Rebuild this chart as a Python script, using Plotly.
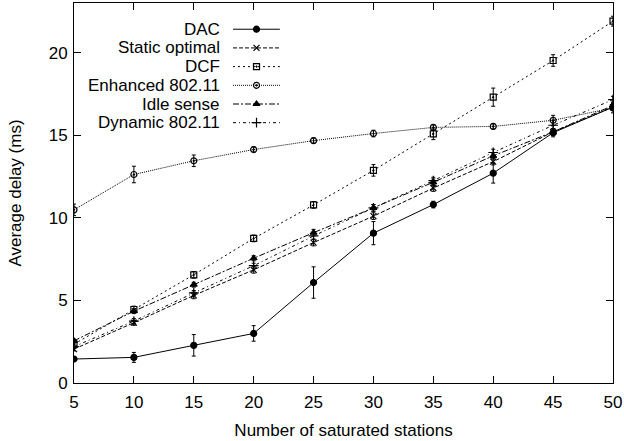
import plotly.graph_objects as go

stations = [5, 10, 15, 20, 25, 30, 35, 40, 45, 50]

dac = [1.45, 1.55, 2.28, 3.0, 6.08, 9.07, 10.8, 12.7, 15.15, 16.7]
dac_err = [0.1, 0.3, 0.65, 0.47, 0.95, 0.7, 0.2, 0.6, 0.25, 0.2]

static_opt = [2.05, 3.65, 5.3, 6.85, 8.5, 10.1, 11.8, 13.4, 15.2, 16.7]
static_err = [0.1, 0.15, 0.2, 0.2, 0.2, 0.2, 0.2, 0.2, 0.2, 0.2]

dcf = [2.35, 4.45, 6.55, 8.75, 10.78, 12.87, 15.08, 17.3, 19.52, 21.9]
dcf_err = [0.15, 0.2, 0.2, 0.2, 0.2, 0.35, 0.35, 0.55, 0.35, 0.3]

enhanced = [10.48, 12.62, 13.45, 14.13, 14.67, 15.1, 15.47, 15.53, 15.9, 16.65]
enhanced_err = [0.35, 0.5, 0.35, 0.15, 0.15, 0.2, 0.15, 0.15, 0.3, 0.3]

idle = [2.55, 4.35, 5.95, 7.55, 9.1, 10.6, 12.15, 13.75, 15.2, 16.8]
idle_err = [0.1, 0.15, 0.15, 0.15, 0.2, 0.2, 0.2, 0.2, 0.2, 0.2]

dynamic = [2.2, 3.75, 5.45, 7.1, 8.9, 10.6, 12.25, 13.95, 15.6, 17.15]
dynamic_err = [0.1, 0.15, 0.15, 0.15, 0.2, 0.2, 0.2, 0.2, 0.3, 0.2]

names = ["DAC", "Static optimal", "DCF", "Enhanced 802.11", "Idle sense", "Dynamic 802.11"]
series = [dac, static_opt, dcf, enhanced, idle, dynamic]
errors = [dac_err, static_err, dcf_err, enhanced_err, idle_err, dynamic_err]
symbols = ["circle", "x-thin-open", "square-open-dot", "circle-open-dot", "triangle-up", "cross-thin-open"]
dashes = ["solid", "4px,2px", "2px,3px", "1px,1px", "6px,2px,2px,2px", "3px,3px,1px,3px"]
msizes = [6, 6, 6, 6, 6, 7]

FONT = "Liberation Sans, Arial, sans-serif"
FS = 17

fig = go.Figure()
for name, ys, err, sym, dash, ms in zip(names, series, errors, symbols, dashes, msizes):
    fig.add_trace(go.Scatter(
        x=stations, y=ys, name=name, mode="lines+markers",
        line=dict(color="black", width=1, dash=dash),
        marker=dict(symbol=sym, size=ms, color="black", line=dict(color="black", width=1.2)),
        error_y=dict(type="data", array=err, visible=True, color="black", thickness=1, width=2),
        showlegend=False,
    ))

# Manual legend (text right-aligned, sample on the right) on overlay axes
leg_top = 0.931
leg_step = 0.0492
for i, (name, sym, dash, ms) in enumerate(zip(names, symbols, dashes, msizes)):
    yy = leg_top - i * leg_step
    fig.add_trace(go.Scatter(
        x=[0.295, 0.3386, 0.382], y=[yy, yy, yy], mode="lines",
        line=dict(color="black", width=1, dash=dash),
        xaxis="x2", yaxis="y2", showlegend=False, hoverinfo="skip",
    ))
    fig.add_trace(go.Scatter(
        x=[0.3386], y=[yy], mode="markers",
        marker=dict(symbol=sym, size=ms, color="black", line=dict(color="black", width=1.2)),
        xaxis="x2", yaxis="y2", showlegend=False, hoverinfo="skip",
    ))
    fig.add_annotation(
        x=0.2746, y=yy, xref="paper", yref="paper", text=name, showarrow=False,
        xanchor="right", yanchor="middle", font=dict(family=FONT, size=FS, color="black"),
    )

axis_common = dict(
    showline=True, mirror="ticks", linecolor="black", linewidth=1,
    ticks="inside", ticklen=7, tickcolor="black", tickwidth=1,
    showgrid=False, zeroline=False,
    tickfont=dict(family=FONT, size=FS, color="black"),
)

fig.update_layout(
    width=624, height=441,
    margin=dict(l=74, r=11, t=3, b=58),
    paper_bgcolor="white", plot_bgcolor="white",
    font=dict(family=FONT, size=FS, color="black"),
    xaxis=dict(range=[5, 50], tickvals=stations, ticklabelstandoff=4,
               title=dict(text="Number of saturated stations", standoff=12,
                          font=dict(family=FONT, size=FS)), **axis_common),
    yaxis=dict(range=[0, 23], tickvals=[0, 5, 10, 15, 20], ticklabelstandoff=2,
               title=dict(text="Average delay (ms)", standoff=22,
                          font=dict(family=FONT, size=FS)), **axis_common),
    xaxis2=dict(overlaying="x", range=[0, 1], visible=False, anchor="y2"),
    yaxis2=dict(overlaying="y", range=[0, 1], visible=False, anchor="x2"),
)

fig.write_html("out.html", config={"displayModeBar": False},
               post_script="document.body.style.margin='0';")
